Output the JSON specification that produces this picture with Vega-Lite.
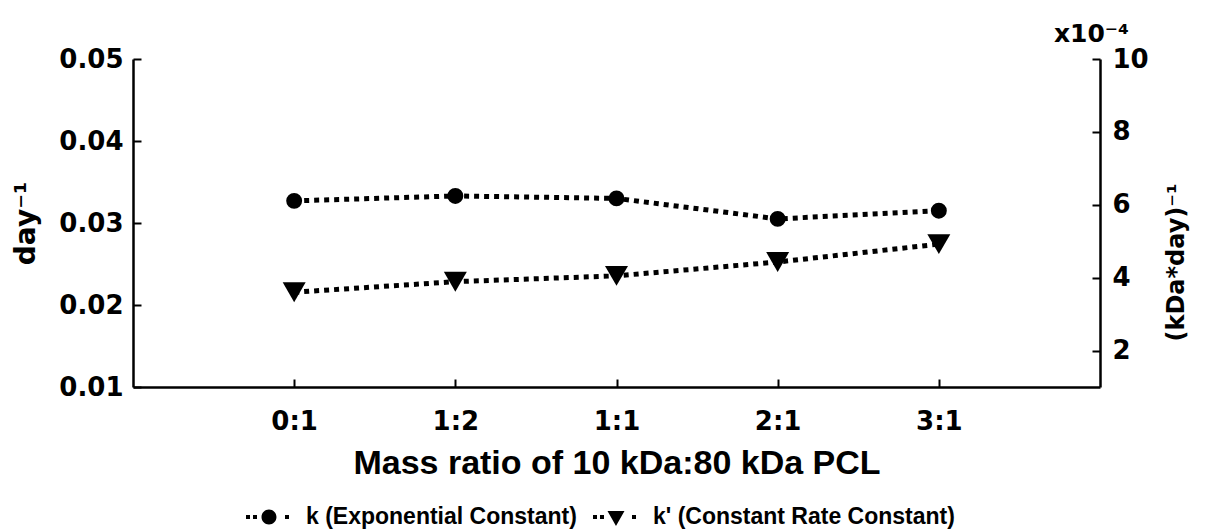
{
  "$schema": "https://vega.github.io/schema/vega-lite/v6.json",
  "width": 967,
  "height": 328,
  "autosize": {"type": "none"},
  "padding": {"left": 133, "top": 59, "right": 108, "bottom": 145},
  "background": "white",
  "config": {
    "view": {"stroke": null},
    "axis": {
      "grid": false,
      "domainColor": "black",
      "domainWidth": 2.5,
      "tickColor": "black",
      "tickWidth": 2,
      "tickSize": -8,
      "labelColor": "black",
      "labelFont": "DejaVu Sans",
      "labelFontWeight": "bold",
      "labelFontSize": 26,
      "titleColor": "black",
      "titleFont": "DejaVu Sans",
      "titleFontWeight": "bold"
    }
  },
  "title": {
    "text": "x10⁻⁴",
    "anchor": "end",
    "frame": "group",
    "dx": 29,
    "offset": -21,
    "baseline": "alphabetic",
    "font": "DejaVu Sans",
    "fontWeight": "bold",
    "fontSize": 25,
    "color": "black"
  },
  "datasets": {
    "main": [
      {"ratio": "0:1", "k": 0.0327, "kp": 3.60},
      {"ratio": "1:2", "k": 0.0333, "kp": 3.89},
      {"ratio": "1:1", "k": 0.0330, "kp": 4.05},
      {"ratio": "2:1", "k": 0.0305, "kp": 4.43},
      {"ratio": "3:1", "k": 0.0315, "kp": 4.92}
    ],
    "legend": [
      {"series": "k (Exponential Constant)"},
      {"series": "k' (Constant Rate Constant)"}
    ]
  },
  "layer": [
    {
      "data": {"name": "main"},
      "encoding": {
        "x": {
          "field": "ratio",
          "type": "ordinal",
          "scale": {"type": "point", "padding": 1, "domain": ["0:1", "1:2", "1:1", "2:1", "3:1"]},
          "axis": {
            "title": "Mass ratio of 10 kDa:80 kDa PCL",
            "labelAngle": 0,
            "labelPadding": 29,
            "titleFont": "Liberation Sans",
            "titleFontSize": 34,
            "titlePadding": 12
          }
        },
        "y": {
          "field": "k",
          "type": "quantitative",
          "scale": {"domain": [0.01, 0.05], "nice": false, "zero": false},
          "axis": {
            "values": [0.01, 0.02, 0.03, 0.04, 0.05],
            "format": ".2f",
            "title": "day⁻¹",
            "titleFontSize": 28,
            "labelPadding": 18,
            "titlePadding": 18
          }
        }
      },
      "layer": [
        {"mark": {"type": "line", "color": "black", "strokeWidth": 5, "strokeDash": [5, 5]}},
        {"mark": {"type": "point", "shape": "circle", "filled": true, "color": "black", "opacity": 1, "size": 254}}
      ]
    },
    {
      "data": {"name": "main"},
      "encoding": {
        "x": {
          "field": "ratio",
          "type": "ordinal",
          "scale": {"type": "point", "padding": 1, "domain": ["0:1", "1:2", "1:1", "2:1", "3:1"]}
        },
        "y": {
          "field": "kp",
          "type": "quantitative",
          "scale": {"domain": [1, 10], "nice": false, "zero": false},
          "axis": {
            "orient": "right",
            "values": [2, 4, 6, 8, 10],
            "title": "(kDa*day)⁻¹",
            "titleAngle": 270,
            "titleFontSize": 24,
            "titleY": 203,
            "labelPadding": 20,
            "titlePadding": 40
          }
        }
      },
      "layer": [
        {"mark": {"type": "line", "color": "black", "strokeWidth": 5, "strokeDash": [5, 5]}},
        {"mark": {"type": "point", "shape": "triangle-down", "filled": true, "color": "black", "opacity": 1, "size": 529}}
      ]
    },
    {
      "data": {"name": "legend"},
      "transform": [{"filter": "datum.series == 'none'"}],
      "mark": {"type": "point", "filled": true, "color": "black", "opacity": 1},
      "encoding": {
        "shape": {
          "field": "series",
          "type": "nominal",
          "scale": {
            "domain": ["k (Exponential Constant)", "k' (Constant Rate Constant)"],
            "range": [
              "M-0.846,-0.077L-0.692,-0.077L-0.692,0.077L-0.846,0.077ZM-0.577,-0.077L-0.423,-0.077L-0.423,0.077L-0.577,0.077ZM-0.25,0A0.288,0.288,0,1,0,0.326,0A0.288,0.288,0,1,0,-0.25,0ZM0.654,-0.077L0.808,-0.077L0.808,0.077L0.654,0.077Z",
              "M-0.846,-0.077L-0.692,-0.077L-0.692,0.077L-0.846,0.077ZM-0.577,-0.077L-0.423,-0.077L-0.423,0.077L-0.577,0.077ZM-0.289,-0.23L0.365,-0.23L0.038,0.346ZM0.654,-0.077L0.808,-0.077L0.808,0.077L0.654,0.077Z"
            ]
          },
          "legend": {
            "title": null,
            "orient": "none",
            "direction": "horizontal",
            "legendX": 109,
            "legendY": 432,
            "padding": 0,
            "symbolSize": 2704,
            "symbolFillColor": "black",
            "symbolStrokeColor": "black",
            "symbolStrokeWidth": 0,
            "symbolOpacity": 1,
            "labelFont": "Liberation Sans",
            "labelFontWeight": "bold",
            "labelFontSize": 23,
            "labelColor": "black",
            "labelOffset": 12,
            "labelLimit": 0,
            "columnPadding": 12
          }
        }
      }
    }
  ],
  "resolve": {"scale": {"y": "independent"}}
}
